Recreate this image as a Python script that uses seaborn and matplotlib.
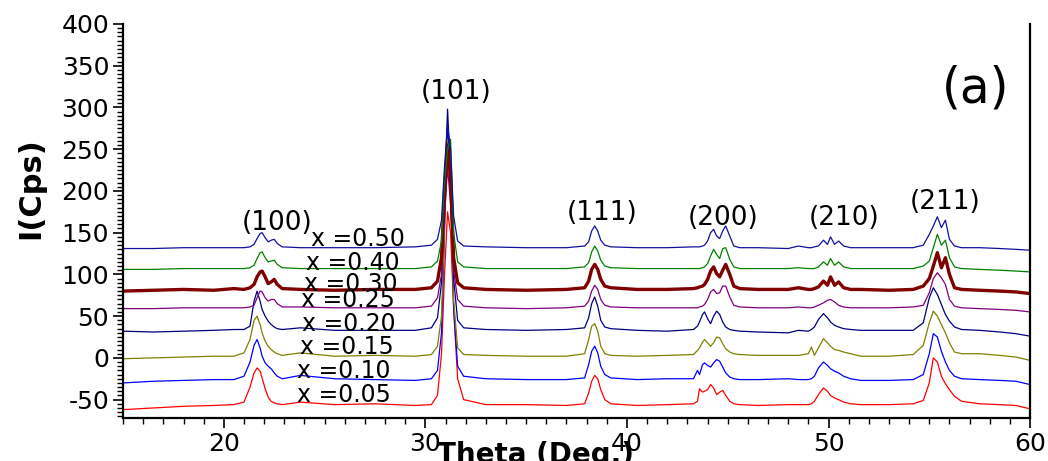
import pandas as pd
import seaborn as sns
import matplotlib.pyplot as plt
from matplotlib.ticker import MultipleLocator

# 2-theta grid (deg) shared by all patterns, denser around the reflections
theta = [
    15.0, 16.5, 18.0, 19.5, 20.5,
    21.0, 21.3, 21.5, 21.65, 21.8, 21.9, 22.05, 22.2, 22.35, 22.5, 22.65, 22.9,
    23.8, 25.5, 27.5, 29.5, 30.3,
    30.6, 30.8, 30.95, 31.1, 31.25, 31.4, 31.6, 31.9,
    33.0, 35.0, 37.0, 37.9,
    38.1, 38.25, 38.4, 38.55, 38.7, 38.9, 39.2,
    40.5, 42.0, 43.3,
    43.5, 43.6, 43.75, 43.85, 44.0, 44.15, 44.3, 44.45, 44.6, 44.75, 44.9, 45.1, 45.3, 45.6,
    46.5, 48.0, 48.5, 49.0,
    49.15, 49.3, 49.5, 49.75, 49.95, 50.1, 50.3, 50.5, 50.75, 51.1, 51.6,
    53.0, 54.2, 54.7,
    55.0, 55.2, 55.4, 55.6, 55.8, 56.0, 56.25, 56.6,
    57.5, 58.5, 59.3, 60.0,
]

# stacked intensities (Cps)
i_005 = [
    -62, -60, -58, -57, -56,
    -53, -35, -18, -12, -16, -24, -37, -47, -52, -54, -55, -56,
    -53, -56, -55, -57, -56,
    -45, 5, 100, 175, 150, 60, -25, -50,
    -56, -56, -57, -55,
    -42, -28, -21, -25, -38, -50, -55,
    -57, -56, -55,
    -52, -37, -41, -40, -38, -32, -36, -44, -41, -39, -45, -52, -55, -56,
    -57, -56, -56, -56,
    -55, -52, -44, -36, -40, -45, -48, -50, -53, -55, -56,
    -56, -55, -51,
    -30, 0, -5, -22, -31, -38, -46, -52,
    -55, -56, -57, -61,
]
i_010 = [
    -30, -28, -27, -26, -26,
    -22, -5, 15, 22, 12, 2, -6, -10, -13, -18, -22, -25,
    -21, -25, -26, -27, -25,
    -15, 30, 150, 275, 215, 60, -10, -22,
    -25, -26, -26, -24,
    -8, 8, 14, 6, -10, -20, -24,
    -26, -25, -25,
    -15, -20, -8, -6, -9, -11, -6, -2, -4, -11, -18, -23, -25, -26,
    -26, -25, -26, -26,
    -25, -22, -12, -5, -9, -13, -16, -18, -22, -25, -27,
    -27, -26, -20,
    5, 29, 25, 8, -5, -15, -22, -25,
    -26, -27, -28, -32,
]
i_015 = [
    -1, 0, 1, 2, 2,
    6, 22, 45, 50, 40, 30, 20, 14, 10, 7, 5, 3,
    6, 2, 3, 2, 4,
    14, 50, 160, 262, 200, 70, 12, 4,
    3, 2, 2, 5,
    22, 38, 41, 32, 14, 5, 3,
    2, 3, 4,
    9, 12, 19, 22, 18, 14, 18, 25, 24, 17, 11, 7, 5, 4,
    3, 3, 3, 5,
    13, 3, 12, 23, 18, 14, 10, 9, 7, 5, 2,
    2, 4, 15,
    42, 56, 50, 40, 30, 18, 7, 5,
    5, 3, 1, -3,
]
i_020 = [
    32, 31, 32, 33, 34,
    34, 38, 68, 80, 68, 58, 50, 44, 40, 37, 35, 34,
    36, 33, 33, 33, 36,
    48, 90, 200, 298, 220, 95, 45, 36,
    34, 33, 34, 36,
    48, 65, 73, 62, 45, 37, 35,
    33, 32, 34,
    38, 43, 52, 55, 47, 41, 50, 56, 52, 43, 37, 34, 33, 32,
    31, 30, 33, 32,
    34, 37, 46, 53, 48, 43, 39, 37, 35, 34, 33,
    33, 33, 42,
    72, 84, 76, 64, 52, 44, 37, 34,
    33, 31, 29, 26,
]
i_025 = [
    59, 59, 60, 60, 60,
    60, 61, 63, 72, 80, 79, 72, 68, 70, 70, 65, 61,
    61, 60, 60, 60, 62,
    72, 100, 170, 228, 185, 105, 70, 62,
    60, 59, 60, 62,
    68, 80, 87, 82, 70, 63, 61,
    60, 60, 60,
    60, 61, 62, 64, 70, 79, 82, 77, 78, 86, 86, 73, 63, 61,
    60, 60, 61, 60,
    60, 61, 63, 66, 69, 70, 67, 63, 61, 60, 60,
    60, 61, 63,
    78, 95, 102, 96, 88, 70, 62, 60,
    59, 58, 57, 55,
]
i_030 = [
    80, 81, 82, 81, 83,
    82, 84, 88, 97, 103, 104, 97, 89, 91, 94, 88, 83,
    82, 81, 82, 82, 84,
    92, 120, 200, 255, 215, 120, 90, 84,
    82, 81, 82, 84,
    92, 106, 112, 106, 94, 86, 84,
    82, 82, 83,
    84, 85, 86, 88, 94, 104, 109, 101, 97, 105, 112, 100, 86, 83,
    82, 82, 84, 82,
    82, 83, 85, 92, 87, 97, 87, 91, 84, 82, 82,
    81, 82, 86,
    95, 110, 126, 108, 120, 100, 84, 82,
    81, 80, 79, 77,
]
i_040 = [
    106, 106, 107, 107, 107,
    107, 108, 111, 119, 126, 127, 120, 115, 116, 117, 112, 108,
    107, 107, 107, 107, 109,
    116, 140, 210, 250, 262, 150, 115, 109,
    107, 107, 107, 109,
    114, 127, 134, 128, 117, 110, 108,
    107, 107, 107,
    107, 107, 108, 109, 113, 122, 130, 124, 119, 131, 132, 118, 109, 107,
    107, 107, 108, 107,
    107, 107, 109, 115, 111, 119, 111, 115, 109, 107, 107,
    107, 107, 110,
    116, 132, 148, 135, 141, 120, 109, 107,
    106, 105, 104, 103,
]
i_050 = [
    131, 131, 132, 132, 132,
    132, 133, 136, 143, 149, 150, 144, 139, 141, 142, 137, 133,
    132, 132, 132, 133, 135,
    142, 165, 230, 278, 250, 170, 140, 134,
    133, 132, 132, 134,
    139, 152, 158, 152, 141, 135, 133,
    132, 132, 133,
    133, 133, 134, 135, 140, 150, 154, 146, 143, 152, 158, 146, 134, 132,
    132, 131, 134, 132,
    132, 133, 134, 141, 136, 145, 136, 140, 134, 132, 132,
    132, 132, 135,
    148, 158, 169, 156, 165, 142, 134, 132,
    132, 131, 130, 129,
]

compositions = ['0.05', '0.10', '0.15', '0.20', '0.25', '0.30', '0.40', '0.50']
patterns = [i_005, i_010, i_015, i_020, i_025, i_030, i_040, i_050]
hkl = ['(100)', '(101)', '(111)', '(200)', '(210)', '(211)']

# long table for seaborn
frames = []
for comp, vals in zip(compositions, patterns):
    frames.append(pd.DataFrame({'theta': theta, 'intensity': vals, 'x': comp}))
df = pd.concat(frames, ignore_index=True)

colors = ['#ff0000', '#0000ff', '#808000', '#000080', '#800080', '#800000', '#008000', '#1010a0']
widths = [0.9, 0.9, 0.9, 0.9, 0.9, 2.4, 0.9, 0.9]

sns.set_style('ticks')
plt.rcParams['font.family'] = ['DejaVu Sans']
plt.rcParams['text.color'] = 'black'
plt.rcParams['axes.labelcolor'] = 'black'
plt.rcParams['xtick.color'] = 'black'
plt.rcParams['ytick.color'] = 'black'
plt.rcParams['axes.unicode_minus'] = False

fig = plt.figure(figsize=(10.48, 4.61), dpi=100)
ax = fig.add_axes([0.1174, 0.0933, 0.8655, 0.8547])

for comp, col, lw in zip(compositions, colors, widths):
    sns.lineplot(data=df[df['x'] == comp], x='theta', y='intensity', color=col,
                 linewidth=lw, estimator=None, sort=False, ax=ax, legend=False)

ax.set_xlim(15, 60)
ax.set_ylim(-72, 400)
ax.xaxis.set_major_locator(MultipleLocator(10))
ax.xaxis.set_minor_locator(MultipleLocator(1))
ax.yaxis.set_major_locator(MultipleLocator(50))
ax.yaxis.set_minor_locator(MultipleLocator(5))
ax.tick_params(which='major', length=7, width=1.2, labelsize=18, pad=3)
ax.tick_params(which='minor', length=4, width=1)

for side in ['left', 'bottom', 'right']:
    ax.spines[side].set_color('black')
    ax.spines[side].set_linewidth(1.6)
ax.spines['top'].set_visible(False)

ax.set_xlabel('Theta (Deg.)', fontsize=20, fontweight='bold')
ax.xaxis.set_label_coords(0.455, -0.058)
ax.xaxis.label.set_va('top')
ax.set_ylabel('I(Cps)', fontsize=22, fontweight='bold')
ax.yaxis.set_label_coords(-0.086, 0.584)

# sample labels
label_pos = [(23.64, -44.5), (23.64, -15.7), (23.79, 13.2), (23.89, 40.8),
             (23.84, 69.6), (23.99, 88.9), (24.09, 114.0), (24.34, 142.9)]
for comp, (lx, ly) in zip(compositions, label_pos):
    ax.text(lx, ly, 'x =' + comp, fontsize=17, ha='left', va='center')

# reflection labels
hkl_pos = [(22.65, 162), (31.54, 318), (38.75, 173), (44.76, 168), (50.77, 168), (55.78, 187)]
for name, (hx, hy) in zip(hkl, hkl_pos):
    ax.text(hx, hy, name, fontsize=19, ha='center', va='center')

ax.text(57.3, 323, '(a)', fontsize=35, ha='center', va='center')

fig.savefig('out.png', dpi=100)
